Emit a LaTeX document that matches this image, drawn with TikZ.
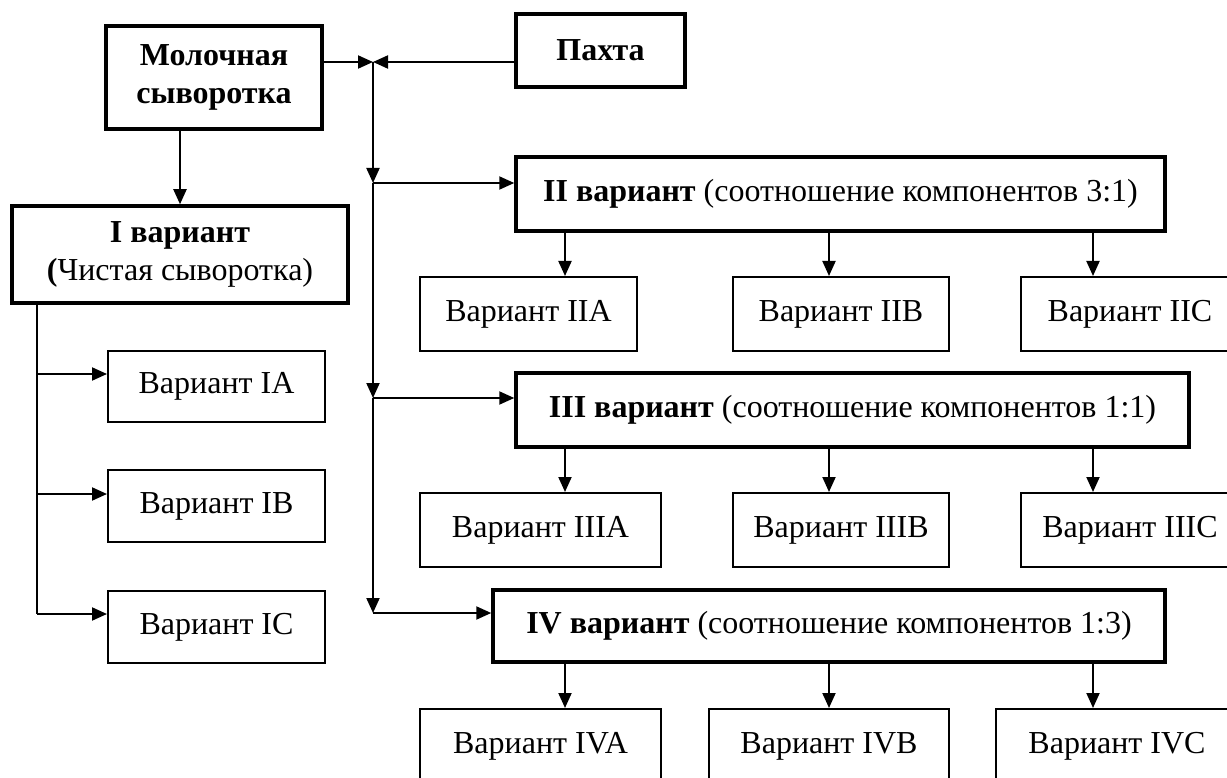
\documentclass[tikz,border=0pt]{standalone}
\usepackage{fontspec}
\setmainfont{Liberation Serif}
\usetikzlibrary{arrows.meta}
\tikzset{
  box/.style={draw, line width=2pt, inner sep=0pt, align=center, font=\fontsize{32}{38}\selectfont},
  thickbox/.style={box, line width=3.5pt},
  arr/.style={line width=2pt, -{Triangle[length=15pt,width=13pt]}},
  ln/.style={line width=2pt}
}
\begin{document}
\begin{tikzpicture}[x=1pt,y=-1pt]
\useasboundingbox (0,0) rectangle (1227,778);
\clip (0,0) rectangle (1227,778);
% top boxes
\node[thickbox, minimum width=216pt, minimum height=103pt] (mol) at (214,77.5) {\textbf{Молочная}\\\textbf{сыворотка}};
\node[thickbox, minimum width=169pt, minimum height=73pt] (pah) at (600.5,50.5) {\textbf{Пахта}};
% variant I
\node[thickbox, minimum width=336pt, minimum height=97pt] (v1) at (180,254.5) {\textbf{I вариант}\\\textbf{(}Чистая сыворотка)};
\node[box, minimum width=217pt, minimum height=71pt] (v1a) at (216.5,386.5) {Вариант IA};
\node[box, minimum width=217pt, minimum height=72pt] (v1b) at (216.5,506) {Вариант IB};
\node[box, minimum width=217pt, minimum height=72pt] (v1c) at (216.5,627) {Вариант IC};
% variant II
\node[thickbox, minimum width=649pt, minimum height=74pt] (v2) at (840.5,194) {\textbf{II вариант} (соотношение компонентов 3:1)};
\node[box, minimum width=217pt, minimum height=74pt] (v2a) at (528.5,314) {Вариант IIA};
\node[box, minimum width=216pt, minimum height=74pt] (v2b) at (841,314) {Вариант IIB};
\node[box, minimum width=218pt, minimum height=74pt] (v2c) at (1130,314) {Вариант IIC};
% variant III
\node[thickbox, minimum width=673pt, minimum height=74pt] (v3) at (852.5,410) {\textbf{III вариант} (соотношение компонентов 1:1)};
\node[box, minimum width=241pt, minimum height=74pt] (v3a) at (540.5,530) {Вариант IIIA};
\node[box, minimum width=216pt, minimum height=74pt] (v3b) at (841,530) {Вариант IIIB};
\node[box, minimum width=218pt, minimum height=74pt] (v3c) at (1130,530) {Вариант IIIC};
% variant IV
\node[thickbox, minimum width=672pt, minimum height=72pt] (v4) at (829,626) {\textbf{IV вариант} (соотношение компонентов 1:3)};
\node[box, minimum width=241pt, minimum height=74pt] (v4a) at (540.5,746) {Вариант IVA};
\node[box, minimum width=240pt, minimum height=74pt] (v4b) at (829,746) {Вариант IVB};
\node[box, minimum width=242pt, minimum height=74pt] (v4c) at (1117,746) {Вариант IVC};
% coordinates
\coordinate (j) at (373,62);
\coordinate (b2) at (373,183);
\coordinate (b3) at (373,398);
\coordinate (b4) at (373,613);
\coordinate (cA) at (565,0);
\coordinate (cB) at (829,0);
\coordinate (cC) at (1093,0);
\coordinate (l0) at (37,0);
\coordinate (l1) at (37,374);
\coordinate (l2) at (37,494);
\coordinate (l3) at (37,614);
% junction
\draw[arr] (mol.east |- j) -- (j);
\draw[arr] (pah.west |- j) -- (j);
\draw[arr] (j) -- (b2);
\draw[arr] (b2) -- (b3);
\draw[arr] (b3) -- (b4);
\draw[arr] (b2) -- (v2.west |- b2);
\draw[arr] (b3) -- (v3.west |- b3);
\draw[arr] (b4) -- (v4.west |- b4);
% left branch
\draw[arr] (v1.north |- mol.south) -- (v1.north);
\draw[ln] (v1.south -| l0) -- (l3);
\draw[arr] (l1) -- (v1a.west |- l1);
\draw[arr] (l2) -- (v1b.west |- l2);
\draw[arr] (l3) -- (v1c.west |- l3);
% sub arrows
\draw[arr] (v2.south -| cA) -- (v2a.north -| cA);
\draw[arr] (v2.south -| cB) -- (v2b.north -| cB);
\draw[arr] (v2.south -| cC) -- (v2c.north -| cC);
\draw[arr] (v3.south -| cA) -- (v3a.north -| cA);
\draw[arr] (v3.south -| cB) -- (v3b.north -| cB);
\draw[arr] (v3.south -| cC) -- (v3c.north -| cC);
\draw[arr] (v4.south -| cA) -- (v4a.north -| cA);
\draw[arr] (v4.south -| cB) -- (v4b.north -| cB);
\draw[arr] (v4.south -| cC) -- (v4c.north -| cC);
\end{tikzpicture}
\end{document}
